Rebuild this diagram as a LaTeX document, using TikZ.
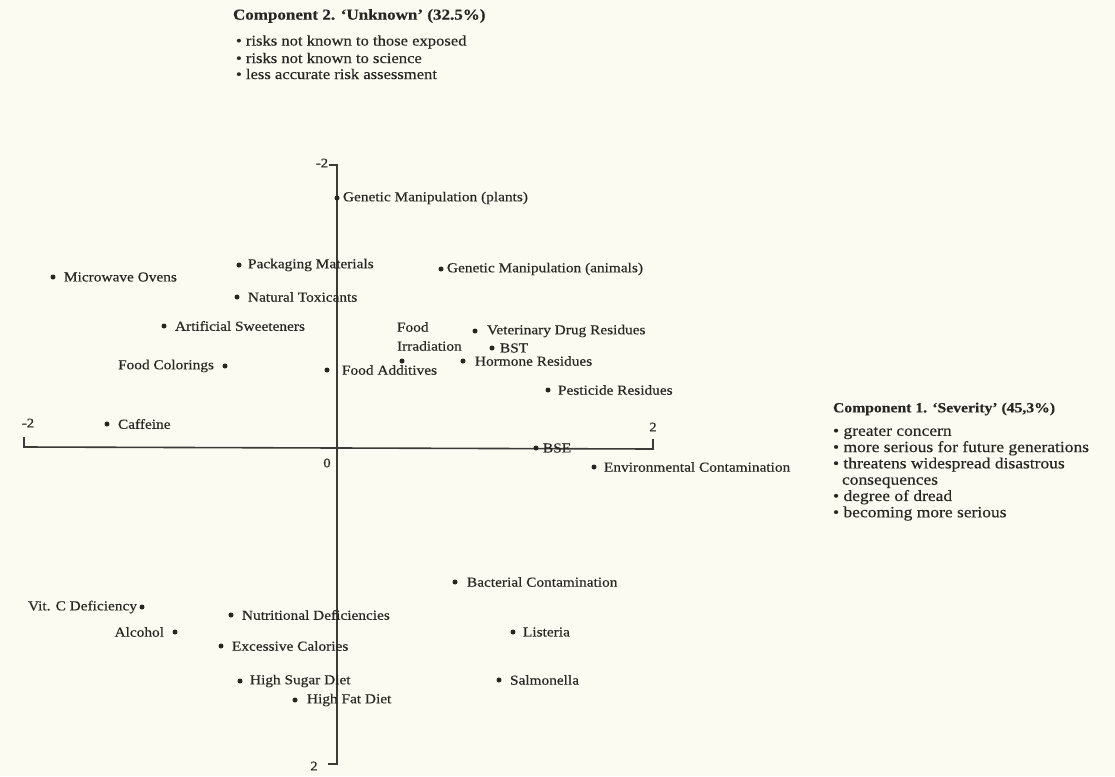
\documentclass[tikz,border=0pt]{standalone}
\usepackage{fontspec}
\setmainfont{Liberation Serif}[FakeStretch=1.12,FakeBold=0.35]
\definecolor{paper}{RGB}{252,251,241}
\definecolor{ink}{RGB}{40,37,34}
\begin{document}
\begin{tikzpicture}[x=1pt,y=-1pt,
  every node/.style={text=ink,inner sep=0pt,outer sep=0pt},
  pt/.style={circle,fill=ink,minimum size=5pt,inner sep=0pt},
  lbl/.style={font=\fontsize{13.7}{15}\selectfont,anchor=west},
  lbll/.style={font=\fontsize{13.7}{15}\selectfont,anchor=east},
  axis/.style={draw=ink!90,line width=1.6pt},
  tick/.style={font=\fontsize{13}{15}\selectfont},
  head/.style={font=\bfseries\fontsize{15.2}{16}\selectfont,anchor=west},
  headr/.style={font=\bfseries\fontsize{14}{16}\selectfont,anchor=west},
  bul/.style={font=\fontsize{14.8}{16}\selectfont,anchor=west},
  bulr/.style={font=\fontsize{15.6}{16.3}\selectfont,anchor=north west,align=left}]
\fill[paper] (0,0) rectangle (1115,776);
\useasboundingbox (0,0) rectangle (1115,776);
% axes
\coordinate (xl0) at (24,437);
\coordinate (xl) at (24,447);
\coordinate (xr) at (653,449);
\coordinate (xr0) at (653,439);
\coordinate (yt0) at (329,165);
\coordinate (yt) at (337,165);
\coordinate (yb) at (337,764);
\coordinate (yb0) at (328,764);
\draw[axis] (xl0) -- (xl) -- (xr) -- (xr0);
\draw[axis] (yt0) -- (yt) -- (yb) -- (yb0);
\node[tick] (tl) at (28,423) {-2};
\node[tick] (tr) at (653,427) {2};
\node[tick] (t0) at (327,463) {0};
\node[tick] (tt) at (322,163) {-2};
\node[tick] (tb) at (314,766) {2};
% header top
\node[head] (h2) at (233,16) {Component 2. ‘Unknown’ (32.5\%)};
\node[bul] (b21) at (236,42) {• risks not known to those exposed};
\node[bul] (b22) at (236,58) {• risks not known to science};
\node[bul] (b23) at (236,74) {• less accurate risk assessment};
% header right
\node[headr] (h1) at (833,409) {Component 1. ‘Severity’ (45,3\%)};
\node[bulr] (b1) at (833,427) {• greater concern\\
• more serious for future generations\\
• threatens widespread disastrous\\
\hspace*{9pt}consequences\\
• degree of dread\\
• becoming more serious};
% points
\node[pt] (gmp) at (337,198) {};
\node[lbl] at ([xshift=6pt]gmp.center) {Genetic Manipulation (plants)};
\node[pt] (pm) at (239,265) {};
\node[lbl] at ([xshift=9pt]pm.center) {Packaging Materials};
\node[pt] (mo) at (53,277) {};
\node[lbl] at ([xshift=11pt]mo.center) {Microwave Ovens};
\node[pt] (gma) at (441,269) {};
\node[lbl] at ([xshift=6pt]gma.center) {Genetic Manipulation (animals)};
\node[pt] (nt) at (237,297) {};
\node[lbl] at ([xshift=11pt]nt.center) {Natural Toxicants};
\node[pt] (as) at (164,326) {};
\node[lbl] at ([xshift=11pt]as.center) {Artificial Sweeteners};
\node[pt] (vdr) at (475,331) {};
\node[lbl] at ([xshift=12pt]vdr.center) {Veterinary Drug Residues};
\node[pt] (fi) at (402,361) {};
\node[lbl] at (397,327) {Food};
\node[lbl] at (397,346) {Irradiation};
\node[pt] (bst) at (492,348) {};
\node[lbl] at ([xshift=8pt]bst.center) {BST};
\node[pt] (hr) at (463,361) {};
\node[lbl] at ([xshift=12pt]hr.center) {Hormone Residues};
\node[pt] (fc) at (225,366) {};
\node[lbll] at ([xshift=-11pt]fc.center) {Food Colorings};
\node[pt] (fa) at (327,370) {};
\node[lbl] at ([xshift=15pt]fa.center) {Food Additives};
\node[pt] (pr) at (548,390) {};
\node[lbl] at ([xshift=10pt]pr.center) {Pesticide Residues};
\node[pt] (caf) at (107,424) {};
\node[lbl] at ([xshift=11pt]caf.center) {Caffeine};
\node[pt] (bse) at (536,448) {};
\node[lbl] at ([xshift=7pt]bse.center) {BSE};
\node[pt] (ec) at (594,467) {};
\node[lbl] at ([xshift=10pt]ec.center) {Environmental Contamination};
\node[pt] (bc) at (455,582) {};
\node[lbl] at ([xshift=12pt]bc.center) {Bacterial Contamination};
\node[pt] (vc) at (142,607) {};
\node[lbll] at ([xshift=-5pt]vc.center) {Vit. C Deficiency};
\node[pt] (nd) at (231,615) {};
\node[lbl] at ([xshift=11pt]nd.center) {Nutritional Deficiencies};
\node[pt] (alc) at (175,632) {};
\node[lbll] at ([xshift=-11pt]alc.center) {Alcohol};
\node[pt] (lis) at (513,632) {};
\node[lbl] at ([xshift=10pt]lis.center) {Listeria};
\node[pt] (exc) at (221,646) {};
\node[lbl] at ([xshift=11pt]exc.center) {Excessive Calories};
\node[pt] (sal) at (499,680) {};
\node[lbl] at ([xshift=11pt]sal.center) {Salmonella};
\node[pt] (hsd) at (240,681) {};
\node[lbl] at ([xshift=10pt]hsd.center) {High Sugar Diet};
\node[pt] (hfd) at (295,700) {};
\node[lbl] at ([xshift=12pt]hfd.center) {High Fat Diet};
\end{tikzpicture}
\end{document}
